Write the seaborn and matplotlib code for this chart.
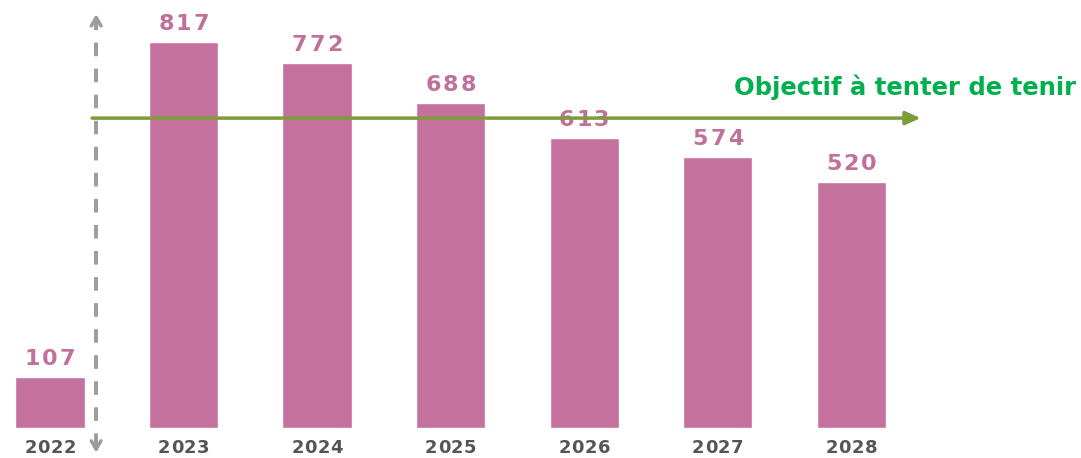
import pandas as pd
import matplotlib
matplotlib.use("Agg")
import matplotlib.pyplot as plt
import seaborn as sns

# Data
years = ["2022", "2023", "2024", "2025", "2026", "2027", "2028"]
values = [107, 817, 772, 688, 613, 574, 520]
target_value = 656
target_label = "Objectif à tenter de tenir"

df = pd.DataFrame({"year": years, "value": values})

sns.set_style("white")
plt.rcParams["font.family"] = ["DejaVu Sans"]

fig = plt.figure(figsize=(10.81, 4.58), dpi=100)
ax = fig.add_axes([0, 0, 1, 1])

bar_color = "#c5719d"
sns.barplot(data=df, x="year", y="value", order=years, color=bar_color,
            width=0.52, saturation=1, ax=ax)

ax.set_xlim(-0.375, 7.72)
ax.set_ylim(-63.5, 906)
ax.axis("off")


def spaced_text(x, y, s, pitch_px, dy_pt, **kw):
    # draw characters one by one to mimic the letter spacing of the original
    n = len(s)
    for k, ch in enumerate(s):
        dx_pt = (k - (n - 1) / 2) * pitch_px * 0.72
        ax.annotate(ch, (x, y), xytext=(dx_pt, dy_pt), textcoords="offset points",
                    ha="center", **kw)


# value labels above bars, year labels below
for i, v in enumerate(values):
    spaced_text(i, v, str(v), 17.5, 6, va="bottom", fontsize=16,
                fontweight="bold", color="#c0709a")
    spaced_text(i, 0, years[i], 13.0, -14.5, va="center", fontsize=13,
                fontweight="bold", color="#555555")

# dashed vertical axis with arrows at both ends
ax_x = 0.345
ax.plot([ax_x, ax_x], [-40, 860], ls=(0, (3.5, 3.2)), lw=2.8, color="#9c9c9c")
ax.annotate("", xy=(ax_x, 882), xytext=(ax_x, 845),
            arrowprops=dict(arrowstyle="->,head_length=0.6,head_width=0.35",
                            color="#9c9c9c", lw=2.5))
ax.annotate("", xy=(ax_x, -58), xytext=(ax_x, -22),
            arrowprops=dict(arrowstyle="->,head_length=0.6,head_width=0.35",
                            color="#9c9c9c", lw=2.5))

# target line
ax.annotate("", xy=(6.52, target_value), xytext=(0.315, target_value),
            arrowprops=dict(arrowstyle="-|>,head_length=0.9,head_width=0.4",
                            color="#7d9c3c", lw=2.5, shrinkA=0, shrinkB=0))
ax.text(7.68, 722, target_label, ha="right", va="center", fontsize=17.5,
        fontweight="bold", color="#00b04f")

fig.savefig("out.png", dpi=100)
